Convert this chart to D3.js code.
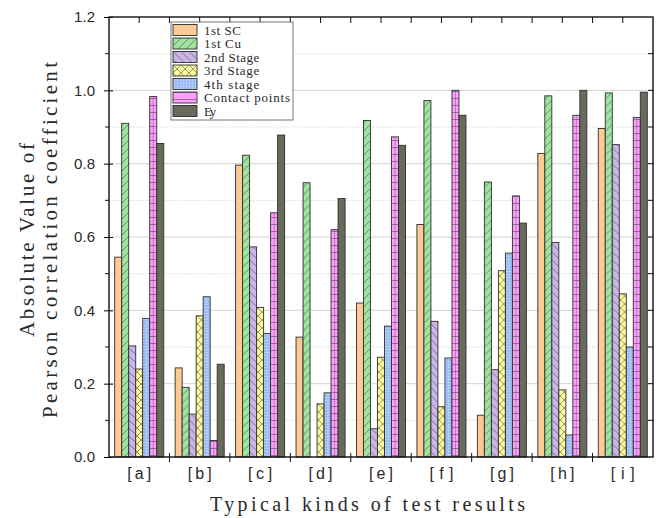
<!DOCTYPE html>
<html>
<head>
<meta charset="utf-8">
<script src="https://cdn.jsdelivr.net/npm/d3@7"></script>
<style>
  body { margin: 0; background: #fff; }
  svg { font-family: "Liberation Serif", "DejaVu Serif", serif; }
</style>
</head>
<body>
<svg width="659" height="518"></svg>
<script>
const categories = ['[a]', '[b]', '[c]', '[d]', '[e]', '[f]', '[g]', '[h]', '[i]'];
const seriesNames = ['1st SC', '1st Cu', '2nd Stage', '3rd Stage', '4th stage', 'Contact points', 'Ey'];

const firstSC = [0.545, 0.243, 0.796, 0.327, 0.420, 0.634, 0.114, 0.828, 0.896];
const firstCu = [0.910, 0.190, 0.823, 0.748, 0.918, 0.972, 0.750, 0.985, 0.993];
const stage2 = [0.303, 0.117, 0.573, 0.000, 0.077, 0.370, 0.238, 0.585, 0.852];
const stage3 = [0.240, 0.385, 0.408, 0.145, 0.272, 0.137, 0.508, 0.183, 0.445];
const stage4 = [0.378, 0.437, 0.337, 0.175, 0.357, 0.270, 0.556, 0.060, 0.300];
const contactPoints = [0.983, 0.045, 0.666, 0.620, 0.873, 1.000, 0.712, 0.932, 0.926];
const ey = [0.855, 0.253, 0.878, 0.705, 0.850, 0.932, 0.638, 1.000, 0.995];

const yTicks = [0.0, 0.2, 0.4, 0.6, 0.8, 1.0, 1.2];

const SERIES = [firstSC, firstCu, stage2, stage3, stage4, contactPoints, ey];
const FILLS = ['#ffc995', '#9ee39e', '#c9b5e8', '#fdfa9c', '#9dbdf5', '#ff9eff', '#686b5c'];
const TEXT = '#2a2a2a';

const LEFT = 109, RIGHT = 653, TOP = 17, BOTTOM = 457;

const svg = d3.select('svg');
const defs = svg.append('defs');

// hatch patterns
function linePattern(id, fill, paths, size) {
    const p = defs.append('pattern')
        .attr('id', id)
        .attr('patternUnits', 'userSpaceOnUse')
        .attr('width', size).attr('height', size);
    p.append('rect').attr('width', size).attr('height', size).attr('fill', fill);
    paths.forEach(d => p.append('path').attr('d', d)
        .attr('stroke', '#3d3d3d').attr('stroke-width', 0.7).attr('stroke-opacity', 0.75).attr('fill', 'none'));
}
defs.append('pattern').attr('id', 'p0').attr('patternUnits', 'userSpaceOnUse')
    .attr('width', 4).attr('height', 4)
    .append('rect').attr('width', 4).attr('height', 4).attr('fill', FILLS[0]);
linePattern('p1', FILLS[1], ['M0,8 L8,0', 'M-2,2 L2,-2', 'M6,10 L10,6'], 8);
linePattern('p2', FILLS[2], ['M0,0 L8,8', 'M-2,6 L2,10', 'M6,-2 L10,2'], 8);
linePattern('p3', FILLS[3], ['M0,0 L8,8', 'M0,8 L8,0'], 8);
const dots = defs.append('pattern').attr('id', 'p4').attr('patternUnits', 'userSpaceOnUse')
    .attr('width', 3).attr('height', 3);
dots.append('rect').attr('width', 3).attr('height', 3).attr('fill', FILLS[4]);
dots.append('rect').attr('x', 1).attr('y', 1).attr('width', 1).attr('height', 1).attr('fill', '#dfe9ff');
linePattern('p5', FILLS[5], ['M0,0.5 L7,0.5'], 7);
defs.append('pattern').attr('id', 'p6').attr('patternUnits', 'userSpaceOnUse')
    .attr('width', 4).attr('height', 4)
    .append('rect').attr('width', 4).attr('height', 4).attr('fill', FILLS[6]);

const xScale = d3.scaleBand().domain(categories).range([LEFT, RIGHT]).padding(0);
const step = xScale.bandwidth();
const xInner = d3.scaleBand().domain(seriesNames).range([5.7, step - 5.7]).padding(0);
const yScale = d3.scaleLinear().domain([0, 1.2]).range([BOTTOM, TOP]);

const minorTicks = d3.range(1, 12, 2).map(v => v / 10);

// grid
svg.append('g').selectAll('line')
    .data(yTicks.slice(1, -1))
    .enter().append('line')
    .attr('x1', LEFT).attr('x2', RIGHT)
    .attr('y1', d => yScale(d)).attr('y2', d => yScale(d))
    .attr('stroke', '#d4d4d4').attr('stroke-width', 1);
svg.append('g').selectAll('line')
    .data(minorTicks)
    .enter().append('line')
    .attr('x1', LEFT).attr('x2', RIGHT)
    .attr('y1', d => yScale(d)).attr('y2', d => yScale(d))
    .attr('stroke', '#d8d8d8').attr('stroke-width', 1).attr('stroke-dasharray', '1.5,1.5');

// bars
const groups = svg.append('g').selectAll('g')
    .data(categories)
    .enter().append('g')
    .attr('transform', d => `translate(${xScale(d)},0)`);

groups.selectAll('rect')
    .data((c, i) => SERIES.map((s, k) => ({ name: seriesNames[k], k: k, value: s[i] })))
    .enter().append('rect')
    .attr('x', d => xInner(d.name))
    .attr('width', xInner.bandwidth())
    .attr('y', d => yScale(d.value))
    .attr('height', d => BOTTOM - yScale(d.value))
    .attr('fill', d => `url(#p${d.k})`)
    .attr('stroke', '#2e2e2e').attr('stroke-width', 0.9);

// centre rail on contact points bars
groups.selectAll('line.rail')
    .data((c, i) => [{ name: seriesNames[5], value: contactPoints[i] }])
    .enter().append('line')
    .attr('class', 'rail')
    .attr('x1', d => xInner(d.name) + xInner.bandwidth() / 2)
    .attr('x2', d => xInner(d.name) + xInner.bandwidth() / 2)
    .attr('y1', d => yScale(d.value)).attr('y2', BOTTOM)
    .attr('stroke', '#3d3d3d').attr('stroke-width', 0.6).attr('stroke-opacity', 0.6);

// axes
const leftAxis = svg.append('g')
    .attr('transform', `translate(${LEFT},0)`)
    .call(d3.axisLeft(yScale).tickValues(yTicks).tickFormat(d3.format('.1f')).tickSize(5).tickPadding(9));
leftAxis.selectAll('.tick line').attr('x2', -5).attr('x1', 4);
leftAxis.select('.domain').remove();
leftAxis.selectAll('text')
    .attr('font-size', 15).attr('fill', TEXT)
    .attr('textLength', 21).attr('lengthAdjust', 'spacing');
svg.append('g').selectAll('line')
    .data(minorTicks)
    .enter().append('line')
    .attr('x1', LEFT - 4).attr('x2', LEFT)
    .attr('y1', d => yScale(d)).attr('y2', d => yScale(d))
    .attr('stroke', '#111');

// right ticks inward
svg.append('g').selectAll('line')
    .data(d3.range(1, 12).map(v => v / 10))
    .enter().append('line')
    .attr('x1', RIGHT - 5).attr('x2', RIGHT)
    .attr('y1', d => yScale(d)).attr('y2', d => yScale(d))
    .attr('stroke', '#111');

// bottom axis: ticks on category boundaries
const bottomAxis = svg.append('g')
    .attr('transform', `translate(0,${BOTTOM})`)
    .call(d3.axisBottom(xScale).tickSize(0).tickPadding(11));
bottomAxis.select('.domain').remove();
bottomAxis.selectAll('text')
    .attr('font-size', 16).attr('fill', TEXT)
    .attr('textLength', 24).attr('lengthAdjust', 'spacing');
svg.append('g').selectAll('line')
    .data(categories.slice(1))
    .enter().append('line')
    .attr('x1', d => xScale(d)).attr('x2', d => xScale(d))
    .attr('y1', BOTTOM - 4).attr('y2', BOTTOM + 5)
    .attr('stroke', '#111');

// top ticks inward at boundaries and centres
svg.append('g').selectAll('line')
    .data(categories.flatMap(c => [xScale(c) + step / 2, xScale(c) + step]).slice(0, -1))
    .enter().append('line')
    .attr('x1', d => d).attr('x2', d => d)
    .attr('y1', TOP).attr('y2', TOP + 6)
    .attr('stroke', '#111');

// frame
svg.append('rect')
    .attr('x', LEFT).attr('y', TOP)
    .attr('width', RIGHT - LEFT).attr('height', BOTTOM - TOP)
    .attr('fill', 'none').attr('stroke', '#111').attr('stroke-width', 1.4);

// axis titles
svg.append('text')
    .attr('x', 210).attr('y', 511)
    .attr('font-size', 20).attr('fill', TEXT)
    .attr('textLength', 315).attr('lengthAdjust', 'spacing')
    .text('Typical kinds of test results');
svg.append('text')
    .attr('transform', 'translate(34,337) rotate(-90)')
    .attr('font-size', 21).attr('fill', TEXT)
    .attr('textLength', 194).attr('lengthAdjust', 'spacing')
    .text('Absolute Value of');
svg.append('text')
    .attr('transform', 'translate(57,418) rotate(-90)')
    .attr('font-size', 21).attr('fill', TEXT)
    .attr('textLength', 356).attr('lengthAdjust', 'spacing')
    .text('Pearson correlation coefficient');

// legend
const legend = svg.append('g').attr('transform', 'translate(171,22)');
legend.append('rect')
    .attr('width', 122).attr('height', 98)
    .attr('fill', '#fff').attr('stroke', '#777').attr('stroke-width', 1);
const items = legend.selectAll('g')
    .data(seriesNames)
    .enter().append('g')
    .attr('transform', (d, i) => `translate(2,${2.5 + i * 13.5})`);
items.append('rect')
    .attr('width', 24).attr('height', 11)
    .attr('fill', (d, i) => `url(#p${i})`)
    .attr('stroke', '#2e2e2e').attr('stroke-width', 0.9);
items.append('text')
    .attr('x', 31).attr('y', 10)
    .attr('font-size', 13).attr('fill', TEXT)
    .attr('textLength', d => d.length * 6.15).attr('lengthAdjust', 'spacing')
    .text(d => d);
</script>
</body>
</html>
